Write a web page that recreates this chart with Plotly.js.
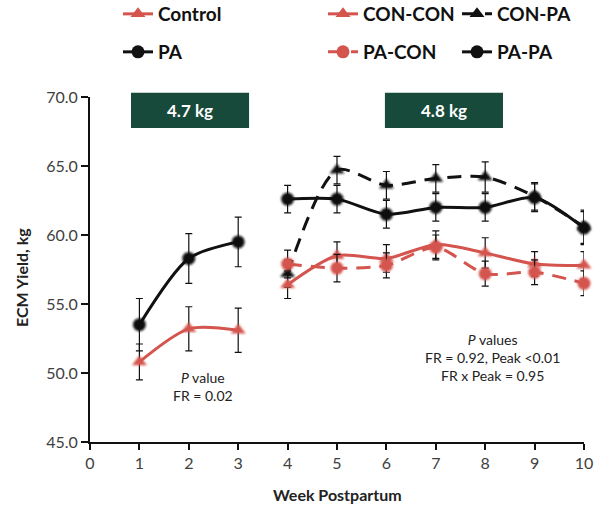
<!DOCTYPE html>
<html>
<head>
<meta charset="utf-8">
<script src="https://cdn.plot.ly/plotly-3.0.1.min.js"></script>
<style>
  html, body { margin: 0; padding: 0; background: #fff; }
  #chart { width: 607px; height: 508px; }
</style>
</head>
<body>
<div id="chart"></div>
<script>
// Energy-corrected milk yield by week postpartum
var preWeeks = [1, 2, 3];
var postWeeks = [4, 5, 6, 7, 8, 9, 10];

var controlYield = [50.8, 53.2, 53.1];
var controlErr   = [1.3, 1.6, 1.6];
var paYield      = [53.5, 58.3, 59.5];
var paErr        = [1.9, 1.8, 1.8];

var conConYield = [56.4, 58.5, 58.3, 59.3, 58.7, 57.9, 57.8];
var conConErr   = [1.0, 1.0, 1.0, 1.0, 1.1, 0.9, 1.0];
var conPaYield  = [57.2, 64.7, 63.6, 64.1, 64.2, 62.8, 60.6];
var conPaErr    = [1.0, 1.0, 1.0, 1.0, 1.1, 1.0, 1.2];
var paConYield  = [57.9, 57.6, 57.8, 59.1, 57.2, 57.3, 56.5];
var paConErr    = [1.0, 1.0, 0.9, 0.9, 0.9, 0.9, 0.9];
var paPaYield   = [62.6, 62.6, 61.5, 62.0, 62.0, 62.7, 60.5];
var paPaErr     = [1.0, 1.0, 1.0, 1.0, 1.0, 1.0, 1.2];

var periodLabels = ['4.7 kg', '4.8 kg'];

var RED = '#d4544e';
var BLACK = '#111111';
var FONT = 'Lato, "Open Sans", sans-serif';

function errBars(arr) {
  return { type: 'data', array: arr, visible: true, color: '#111', thickness: 1.2, width: 3.5 };
}

function series(name, x, y, err, color, symbol, dash, legendId) {
  return {
    type: 'scatter', mode: 'lines+markers', name: name, x: x, y: y,
    error_y: errBars(err),
    line: { color: color, width: 3, dash: dash, shape: 'spline', smoothing: 0.8 },
    marker: { color: color, symbol: symbol, size: 13 },
    legend: legendId, cliponaxis: false
  };
}

var traces = [
  series('Control', preWeeks, controlYield, controlErr, RED, 'triangle-up', 'solid', 'legend'),
  series('PA', preWeeks, paYield, paErr, BLACK, 'circle', 'solid', 'legend2'),
  series('CON-PA', postWeeks, conPaYield, conPaErr, BLACK, 'triangle-up', '14px,9px', 'legend5'),
  series('PA-PA', postWeeks, paPaYield, paPaErr, BLACK, 'circle', 'solid', 'legend6'),
  series('CON-CON', postWeeks, conConYield, conConErr, RED, 'triangle-up', 'solid', 'legend3'),
  series('PA-CON', postWeeks, paConYield, paConErr, RED, 'circle', '14px,9px', 'legend4')
];

function legendAt(xPx, yPx) {
  return {
    xref: 'container', yref: 'container',
    x: xPx / 607, y: 1 - yPx / 508,
    xanchor: 'left', yanchor: 'middle',
    bgcolor: 'rgba(0,0,0,0)', borderwidth: 0,
    font: { family: FONT, size: 19, color: '#111', weight: 'bold' }
  };
}

var boxStyle = { type: 'rect', xref: 'paper', yref: 'paper', fillcolor: '#174a3b', line: { width: 0 }, layer: 'above' };
var titleFont = { family: FONT, size: 16, color: '#222', weight: 'bold' };

var layout = {
  width: 607, height: 508,
  margin: { l: 90, r: 23, t: 97, b: 66, autoexpand: false },
  paper_bgcolor: '#fff', plot_bgcolor: '#fff',
  font: { family: FONT, color: '#333' },
  showlegend: true,
  legend:  legendAt(118, 14),
  legend2: legendAt(118, 52),
  legend3: legendAt(323, 14),
  legend4: legendAt(323, 52),
  legend5: legendAt(457, 14),
  legend6: legendAt(457, 52),
  xaxis: {
    range: [0, 10], tickmode: 'linear', tick0: 0, dtick: 1,
    showgrid: false, zeroline: false,
    showline: true, linecolor: '#111', linewidth: 2,
    ticks: 'outside', ticklen: 6, tickwidth: 2, tickcolor: '#111',
    tickfont: { family: FONT, size: 16, color: '#404040' }
  },
  yaxis: {
    range: [45, 70], tickmode: 'linear', tick0: 45, dtick: 5, tickformat: '.1f',
    showgrid: false, zeroline: false,
    showline: true, linecolor: '#111', linewidth: 2,
    ticks: 'outside', ticklen: 7, tickwidth: 2, tickcolor: '#111',
    tickfont: { family: FONT, size: 16, color: '#404040' }
  },
  shapes: [
    Object.assign({ x0: 0.083, x1: 0.322, y0: 0.910, y1: 1.012 }, boxStyle),
    Object.assign({ x0: 0.597, x1: 0.836, y0: 0.910, y1: 1.012 }, boxStyle)
  ],
  annotations: [
    { xref: 'paper', yref: 'paper', x: 0.2025, y: 0.961, xanchor: 'center', yanchor: 'middle',
      text: '<b>' + periodLabels[0] + '</b>', showarrow: false, font: { family: FONT, size: 17, color: '#fff' } },
    { xref: 'paper', yref: 'paper', x: 0.7165, y: 0.961, xanchor: 'center', yanchor: 'middle',
      text: '<b>' + periodLabels[1] + '</b>', showarrow: false, font: { family: FONT, size: 17, color: '#fff' } },
    { xref: 'x', yref: 'y', x: 2.29, y: 49.0, text: '<i>P</i> value<br>FR = 0.02', showarrow: false, align: 'center',
      font: { family: FONT, size: 14, color: '#222' } },
    { xref: 'x', yref: 'y', x: 8.14, y: 51.15, text: '<i>P</i> values<br>FR = 0.92, Peak <0.01<br>FR x Peak = 0.95',
      showarrow: false, align: 'center', font: { family: FONT, size: 14, color: '#222' } },
    // axis titles
    { xref: 'paper', yref: 'paper', x: 0.5, y: -0.1536, xanchor: 'center', yanchor: 'middle',
      text: 'Week Postpartum', showarrow: false, font: titleFont },
    { xref: 'paper', yref: 'paper', x: -0.140, y: 0.478, xanchor: 'center', yanchor: 'middle', textangle: -90,
      text: 'ECM Yield, kg', showarrow: false, font: titleFont }
  ]
};

Plotly.newPlot('chart', traces, layout, { staticPlot: true }).then(function (gd) {
  // soft edges on the markers
  var ns = 'http://www.w3.org/2000/svg';
  var svg = gd.querySelector('svg.main-svg');
  var defs = svg.querySelector('defs') || svg.insertBefore(document.createElementNS(ns, 'defs'), svg.firstChild);
  var filter = document.createElementNS(ns, 'filter');
  filter.setAttribute('id', 'soft-marker');
  filter.setAttribute('x', '-60%'); filter.setAttribute('y', '-60%');
  filter.setAttribute('width', '220%'); filter.setAttribute('height', '220%');
  var blur = document.createElementNS(ns, 'feGaussianBlur');
  blur.setAttribute('stdDeviation', '1.3');
  filter.appendChild(blur);
  defs.appendChild(filter);
  gd.querySelectorAll('.scatterlayer .points path.point').forEach(function (p) {
    p.setAttribute('filter', 'url(#soft-marker)');
  });
});
</script>
</body>
</html>
